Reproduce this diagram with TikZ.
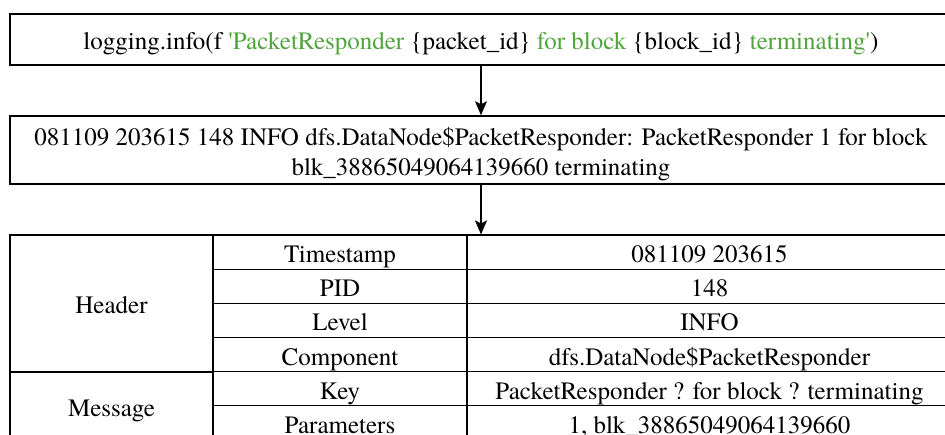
\documentclass[tikz,border=0pt]{standalone}
\usepackage{fontspec}
\setmainfont{TeX Gyre Termes}
\usetikzlibrary{arrows.meta}
\definecolor{codegreen}{RGB}{80,165,60}
\begin{document}
\begin{tikzpicture}[x=1pt,y=-1pt,
  txt/.style={font=\rmfamily\fontsize{25}{30}\selectfont},
  oneline/.style={text height=21pt,text depth=0pt},
  bigbox/.style={draw=black,line width=1.6pt,inner sep=0pt,txt,align=center},
  cell/.style={draw=black,line width=1.2pt,inner sep=0pt,txt,oneline,anchor=center},
  c1/.style={cell,minimum width=203pt},
  c2/.style={cell,minimum width=254pt,minimum height=34.17pt},
  c3/.style={cell,minimum width=485pt,minimum height=34.17pt},
  arr/.style={-{Stealth[length=14pt,width=12pt,inset=3pt]},line width=1.4pt}]
\useasboundingbox (0,0) rectangle (945,435);
\node[bigbox,oneline,minimum width=942pt,minimum height=51pt] (src) at (481,39.5)
  {logging.info(f \textcolor{codegreen}{\textquotesingle PacketResponder} \{packet\_id\} \textcolor{codegreen}{for block} \{block\_id\} \textcolor{codegreen}{terminating\textquotesingle})};
\node[bigbox,text height=51pt,text depth=0pt,minimum width=942pt,minimum height=68pt] (raw) at (481,150)
  {081109 203615 148 INFO dfs.DataNode\$PacketResponder: PacketResponder 1 for block\\blk\_38865049064139660 terminating};
% table
\node[c1,minimum height=137pt] (hdr) at (111.5,303.5) {Header};
\node[c1,minimum height=68.3pt] (msg) at (111.5,406.2) {Message};
\node[c2] (k1) at (340,252.1) {Timestamp};
\node[c2] (k2) at (340,286.3) {PID};
\node[c2] (k3) at (340,320.4) {Level};
\node[c2] (k4) at (340,354.6) {Component};
\node[c2] (k5) at (340,388.8) {Key};
\node[c2] (k6) at (340,422.9) {Parameters};
\node[c3] (v1) at (709.5,252.1) {081109 203615};
\node[c3] (v2) at (709.5,286.3) {148};
\node[c3] (v3) at (709.5,320.4) {INFO};
\node[c3] (v4) at (709.5,354.6) {dfs.DataNode\$PacketResponder};
\node[c3] (v5) at (709.5,388.8) {PacketResponder ? for block ? terminating};
\node[c3] (v6) at (709.5,422.9) {1, blk\_38865049064139660};
\coordinate (tabtop) at (raw.south |- v1.north);
\draw[arr] (src.south) -- (raw.north);
\draw[arr] (raw.south) -- (tabtop);
\end{tikzpicture}
\end{document}
